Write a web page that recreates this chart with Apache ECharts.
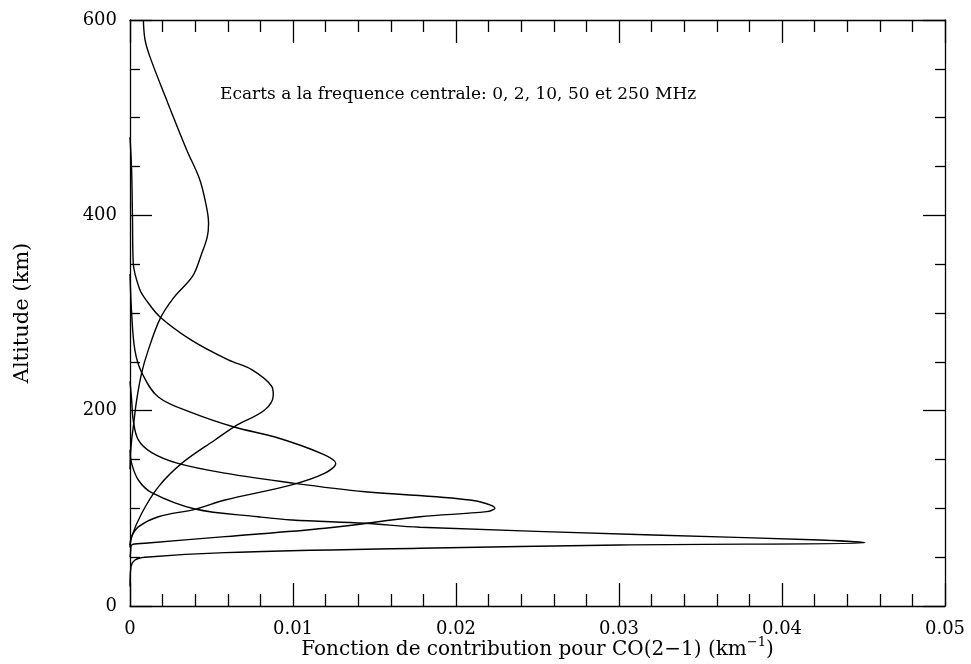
<!DOCTYPE html>
<html>
<head>
<meta charset="utf-8">
<title>Fonction de contribution CO(2-1)</title>
<script src="https://cdn.jsdelivr.net/npm/echarts@6/dist/echarts.min.js"></script>
<style>
  html, body { margin: 0; padding: 0; background: #fff; }
  #chart { width: 971px; height: 664px; }
</style>
</head>
<body>
<div id="chart"></div>
<script>
// points : [fonction de contribution (km-1), altitude (km)], du haut vers le bas
const ecart0 = [
  [0.00082, 600], [0.00092, 580], [0.00123, 562], [0.00225, 518], [0.00348, 467],
  [0.00425, 438], [0.0046, 416], [0.00482, 392], [0.00474, 378], [0.00438, 360],
  [0.00385, 338], [0.00265, 315], [0.00184, 294], [0.00112, 262], [0.00072, 239],
  [0.00041, 211], [0.0002, 183], [0.0001, 170], [0.00003, 155], [0, 140]
];
const ecart2 = [
  [0, 480], [0.0001, 446], [0.00015, 400], [0.0002, 351], [0.0006, 324],
  [0.001, 313], [0.00184, 296], [0.00379, 272], [0.00603, 252], [0.00747, 242],
  [0.00869, 225], [0.00879, 216], [0.00828, 201], [0.00644, 184], [0.00521, 170],
  [0.00317, 146], [0.00174, 122], [0.00072, 95], [0.0001, 71], [0, 60]
];
const ecart10 = [
  [0, 340], [0.0001, 300], [0.0003, 262], [0.00072, 239], [0.00174, 214],
  [0.00379, 198], [0.00644, 183], [0.0089, 173], [0.01176, 156], [0.01262, 146],
  [0.01196, 136], [0.00992, 124], [0.00583, 108.5], [0.00399, 99], [0.00174, 91.4],
  [0.00051, 81], [0.0001, 71], [0, 62]
];
const ecart50 = [
  [0, 230], [0.0001, 211], [0.0002, 190], [0.00051, 170], [0.00133, 157],
  [0.00294, 146], [0.00583, 136], [0.00992, 126], [0.01442, 117], [0.02086, 108.5],
  [0.02239, 100], [0.02188, 96.6], [0.01779, 91.4], [0.01196, 79.6], [0.00583, 71],
  [0.00092, 64.2], [0.0001, 62.5], [0.00003, 54], [0, 50]
];
const ecart250 = [
  [0, 160], [0.0001, 146], [0.00051, 129], [0.00133, 116], [0.00399, 99.3],
  [0.00785, 91.4], [0.00994, 88], [0.01442, 84.7], [0.01779, 80.6], [0.03209, 72.7],
  [0.04233, 67.6], [0.04509, 64.8], [0.03006, 62.5], [0.01779, 59.1], [0.00583, 54.6],
  [0.00092, 49.9], [0.00031, 47.1], [0.00006, 40.2], [0, 20]
];
const courbes = [ecart0, ecart2, ecart10, ecart50, ecart250];
const nomsCourbes = ['0 MHz', '2 MHz', '10 MHz', '50 MHz', '250 MHz'];

const police = 'DejaVu Serif';

// axe commun (cadre avec graduations vers l'interieur)
function axeX(pos, labels) {
  return {
    type: 'value', position: pos, min: 0, max: 0.05, interval: 0.01,
    axisLine: { show: true, onZero: false, lineStyle: { color: '#000', width: 1.3 } },
    axisTick: { show: true, inside: true, length: 23, lineStyle: { color: '#000', width: 1.3 } },
    minorTick: { show: true, splitNumber: 5, length: 12, lineStyle: { color: '#000', width: 1.3 } },
    splitLine: { show: false },
    axisLabel: { show: labels, color: '#000', fontFamily: police, fontSize: 18, margin: 14 }
  };
}
function axeY(pos, labels) {
  return {
    type: 'value', position: pos, min: 0, max: 600, interval: 200,
    axisLine: { show: true, onZero: false, lineStyle: { color: '#000', width: 1.3 } },
    axisTick: { show: true, inside: true, length: 22, lineStyle: { color: '#000', width: 1.3 } },
    minorTick: { show: true, splitNumber: 4, length: 10, lineStyle: { color: '#000', width: 1.3 } },
    splitLine: { show: false },
    axisLabel: { show: labels, color: '#000', fontFamily: police, fontSize: 18, margin: 13 }
  };
}

const xBas = axeX('bottom', true);
xBas.name = 'Fonction de contribution pour CO(2\u22121) (km{sup|\u22121})';
xBas.nameLocation = 'middle';
xBas.nameGap = 30;
xBas.nameMoveOverlap = false;
xBas.nameTextStyle = {
  color: '#000', fontFamily: police, fontSize: 20,
  rich: { sup: { fontFamily: police, fontSize: 13, color: '#000', padding: [0, 0, 14, 0] } }
};
const yGauche = axeY('left', true);
yGauche.name = 'Altitude (km)';
yGauche.nameLocation = 'middle';
yGauche.nameGap = 97;
yGauche.nameMoveOverlap = false;
yGauche.nameTextStyle = { color: '#000', fontFamily: police, fontSize: 21 };

const chart = echarts.init(document.getElementById('chart'));
chart.setOption({
  animation: false,
  backgroundColor: '#fff',
  // cadre fixe : pas de reduction automatique pour loger les textes
  grid: { left: 130, right: 26, top: 20, bottom: 58, outerBoundsMode: 'none' },
  xAxis: [xBas, axeX('top', false)],
  yAxis: [yGauche, axeY('right', false)],
  graphic: [{
    type: 'text', left: 220, top: 86,
    style: {
      text: 'Ecarts a la frequence centrale: 0, 2, 10, 50 et 250 MHz',
      fill: '#000', font: '17px "DejaVu Serif"'
    }
  }],
  series: courbes.map((d, i) => ({
    name: nomsCourbes[i],
    type: 'line',
    xAxisIndex: 0, yAxisIndex: 0,
    data: d,
    smooth: 0.35,
    showSymbol: false,
    silent: true,
    lineStyle: { color: '#000', width: 1.4 }
  }))
});
</script>
</body>
</html>
